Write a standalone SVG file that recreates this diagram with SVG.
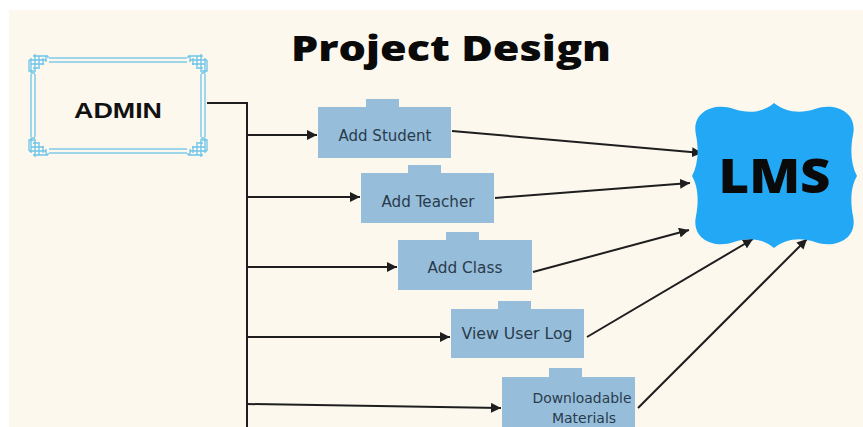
<svg xmlns="http://www.w3.org/2000/svg" xmlns:xlink="http://www.w3.org/1999/xlink" width="863" height="427" viewBox="0 0 863 427">
<style>
.bg{fill:#fcf8ee}
.box{fill:#96bedb}
.lbl{font-family:"DejaVu Sans","Liberation Sans",sans-serif;font-size:15px;fill:#2a3b4c;text-anchor:middle}
.sm{font-size:14px}
.con{stroke:#1e1e1e;stroke-width:2;fill:none}
.orn{stroke:#6cc3ea;stroke-width:1.3;fill:none}
.title{font-family:"Open Sans","DejaVu Sans",sans-serif;font-weight:800;fill:#0a0a0a;text-anchor:middle}
</style>
<defs>
<marker id="ah" markerUnits="userSpaceOnUse" markerWidth="11" markerHeight="10" refX="10" refY="5" orient="auto">
<path d="M0,0 L10,5 L0,10 Z" fill="#1e1e1e"/>
</marker>
<g id="corner">
<path class="orn" d="M33,56 H48 M29,60 H46 M31,64 H44 M33,68 H40 M31,58 V73 M35,54 V70 M39,56 V67 M43,58 V65 M29,60 V71 H36 M46,56 V62 M48,56 V58"/>
</g>
</defs>
<rect width="863" height="427" fill="#ffffff"/>
<rect class="bg" x="9" y="10" width="854" height="417"/>

<text class="title" x="451" y="61" font-size="35" textLength="320" lengthAdjust="spacingAndGlyphs">Project Design</text>

<g id="connectors">
<polyline class="con" points="207,103 247,103 247,427"/>
<line class="con" x1="247" y1="135" x2="317" y2="135" marker-end="url(#ah)"/>
<line class="con" x1="247" y1="197" x2="360" y2="197" marker-end="url(#ah)"/>
<line class="con" x1="247" y1="267" x2="397" y2="267" marker-end="url(#ah)"/>
<line class="con" x1="247" y1="337" x2="450" y2="337" marker-end="url(#ah)"/>
<line class="con" x1="247" y1="404" x2="501" y2="408" marker-end="url(#ah)"/>
<line class="con" x1="452" y1="131" x2="702" y2="153" marker-end="url(#ah)"/>
<line class="con" x1="495" y1="198" x2="690" y2="183" marker-end="url(#ah)"/>
<line class="con" x1="533" y1="272" x2="689" y2="230" marker-end="url(#ah)"/>
<line class="con" x1="587" y1="337" x2="753" y2="239" marker-end="url(#ah)"/>
<line class="con" x1="638" y1="408" x2="807" y2="239" marker-end="url(#ah)"/>
</g>

<g id="admin">
<rect class="orn" x="31" y="58" width="174" height="95"/>
<rect class="orn" x="35" y="62" width="166" height="87"/>
<rect x="30" y="55" width="19" height="19" fill="#fcf8ee"/>
<rect x="187" y="55" width="19" height="19" fill="#fcf8ee"/>
<rect x="30" y="137" width="19" height="19" fill="#fcf8ee"/>
<rect x="187" y="137" width="19" height="19" fill="#fcf8ee"/>
<use xlink:href="#corner"/>
<use xlink:href="#corner" transform="translate(236,0) scale(-1,1)"/>
<use xlink:href="#corner" transform="translate(0,211) scale(1,-1)"/>
<use xlink:href="#corner" transform="translate(236,211) scale(-1,-1)"/>
<path class="orn" d="M31,73 H35 M201,73 H205 M31,138 H35 M201,138 H205"/>
<text x="118" y="118" font-family="Liberation Sans, Arial, sans-serif" font-weight="700" font-size="22" fill="#111" text-anchor="middle" textLength="88" lengthAdjust="spacingAndGlyphs">ADMIN</text>
</g>

<g id="add-student">
<path class="box" d="M318,107 H366 V99 H399 V107 H451 V158 H318 Z"/>
<text class="lbl" x="385" y="141" textLength="93" lengthAdjust="spacingAndGlyphs">Add Student</text>
</g>
<g id="add-teacher">
<path class="box" d="M361,173 H408 V165 H441 V173 H494 V223 H361 Z"/>
<text class="lbl" x="428" y="207" textLength="93" lengthAdjust="spacingAndGlyphs">Add Teacher</text>
</g>
<g id="add-class">
<path class="box" d="M398,240 H446 V232 H479 V240 H532 V290 H398 Z"/>
<text class="lbl" x="465" y="273" textLength="75" lengthAdjust="spacingAndGlyphs">Add Class</text>
</g>
<g id="view-user-log">
<path class="box" d="M451,309 H498 V301 H531 V309 H584 V358 H451 Z"/>
<text class="lbl" x="517" y="339" textLength="111" lengthAdjust="spacingAndGlyphs">View User Log</text>
</g>
<g id="downloadable-materials">
<path class="box" d="M502,377 H549 V368 H582 V377 H635 V430 H502 Z"/>
<text class="lbl sm" x="582" y="403" textLength="99" lengthAdjust="spacingAndGlyphs">Downloadable</text>
<text class="lbl sm" x="584" y="423">Materials</text>
</g>

<g id="lms">
<path fill="#22a8f5" d="M774,103 C785,112 800,114 815,109 C835,102 858,112 853,135 C850,150 851,165 857,176 C851,186 850,201 853,216 C858,239 835,249 815,242 C800,237 785,239 774,248 C764,239 749,237 734,242 C714,249 691,239 696,216 C699,201 698,186 692,176 C698,165 699,150 696,135 C691,112 714,102 734,109 C749,114 764,112 774,103 Z"/>
<text class="title" x="774.5" y="193" font-size="48" textLength="112" lengthAdjust="spacingAndGlyphs">LMS</text>
</g>
</svg>
